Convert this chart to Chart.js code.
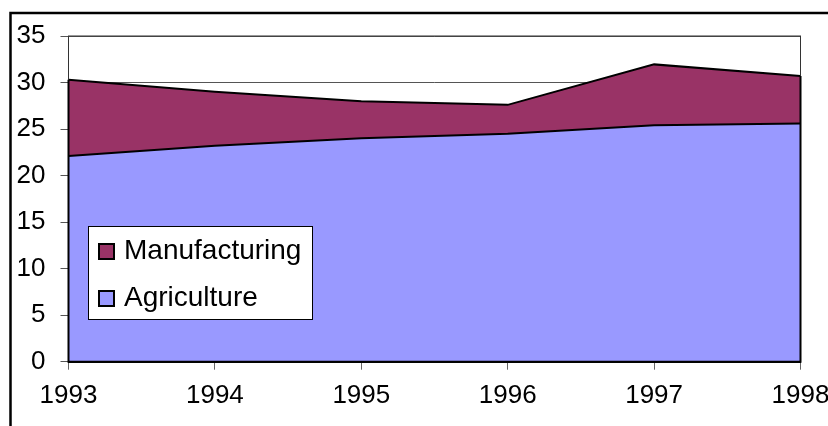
<!DOCTYPE html>
<html>
<head>
<meta charset="utf-8">
<script src="https://cdn.jsdelivr.net/npm/chart.js@4.4.1/dist/chart.umd.min.js"></script>
<style>
    html, body { margin: 0; padding: 0; background: #fff; overflow: hidden; }
    #wrap { width: 828px; height: 426px; position: relative; }
</style>
</head>
<body>
<div id="wrap"><canvas id="chart"></canvas></div>
<script>
// chart data
const years = ["1993", "1994", "1995", "1996", "1997", "1998"];
const agriculture = [22.1, 23.2, 24.0, 24.5, 25.4, 25.6];
const manufacturing = [8.2, 5.8, 4.0, 3.1, 6.55, 5.1];
const yMax = 35;
const yStep = 5;

const FONT = "'Liberation Sans', Arial, sans-serif";

// frame, plot border, area edges, x labels and the legend box
const decorations = {
    id: "decorations",
    afterDatasetsDraw(chart) {
        const { ctx, chartArea, scales } = chart;
        const y = scales.y;
        ctx.save();
        // plot border (top / right)
        ctx.strokeStyle = "#333";
        ctx.lineWidth = 1;
        ctx.strokeRect(chartArea.left, chartArea.top, chartArea.right - chartArea.left, chartArea.bottom - chartArea.top);
        // closed outline of the stacked areas at the sides
        const first = agriculture[0] + manufacturing[0];
        const last = agriculture[agriculture.length - 1] + manufacturing[manufacturing.length - 1];
        ctx.strokeStyle = "#000";
        ctx.lineWidth = 2;
        ctx.beginPath();
        ctx.moveTo(chartArea.left, y.getPixelForValue(first));
        ctx.lineTo(chartArea.left, chartArea.bottom);
        ctx.lineTo(chartArea.right, chartArea.bottom);
        ctx.lineTo(chartArea.right, y.getPixelForValue(last));
        ctx.stroke();
        ctx.restore();
    },
    afterDraw(chart) {
        const { ctx, scales } = chart;
        const x = scales.x;
        ctx.save();

        // outer frame (clipped at right and bottom)
        ctx.strokeStyle = "#000";
        ctx.lineWidth = 2.5;
        ctx.beginPath();
        ctx.moveTo(10.5, 440);
        ctx.lineTo(10.5, 13);
        ctx.lineTo(840, 13);
        ctx.stroke();

        // x labels (the last one runs off the edge like in the original)
        ctx.fillStyle = "#000";
        ctx.font = "26px " + FONT;
        ctx.textAlign = "center";
        ctx.textBaseline = "middle";
        years.forEach((label, i) => {
            ctx.fillText(label, x.getPixelForTick(i), 396);
        });

        // legend
        ctx.fillStyle = "#fff";
        ctx.fillRect(88.5, 226.5, 224, 93);
        ctx.strokeStyle = "#000";
        ctx.lineWidth = 1;
        ctx.strokeRect(88.5, 226.5, 224, 93);

        const entries = [chart.data.datasets[1], chart.data.datasets[0]];
        ctx.font = "28px " + FONT;
        ctx.textAlign = "left";
        ctx.textBaseline = "alphabetic";
        entries.forEach((ds, i) => {
            const top = 244 + i * 47;
            ctx.fillStyle = ds.backgroundColor;
            ctx.fillRect(99, top, 15, 15);
            ctx.lineWidth = 2;
            ctx.strokeStyle = "#000";
            ctx.strokeRect(99, top, 15, 15);
            ctx.fillStyle = "#000";
            ctx.fillText(ds.label, 124, 259 + i * 47);
        });
        ctx.restore();
    }
};

new Chart(document.getElementById("chart"), {
    type: "line",
    data: {
        labels: years,
        datasets: [
            {
                label: "Agriculture",
                data: agriculture,
                backgroundColor: "#9999FF",
                borderColor: "#000",
                borderWidth: 2,
                fill: "origin",
                pointRadius: 0,
                tension: 0
            },
            {
                label: "Manufacturing",
                data: manufacturing,
                backgroundColor: "#993366",
                borderColor: "#000",
                borderWidth: 2,
                fill: "-1",
                pointRadius: 0,
                tension: 0
            }
        ]
    },
    options: {
        responsive: true,
        maintainAspectRatio: false,
        animation: false,
        layout: { padding: { top: 36, right: 27.5, left: 0, bottom: 0 } },
        plugins: {
            legend: { display: false },
            tooltip: { enabled: false }
        },
        scales: {
            x: {
                grid: { display: true, drawOnChartArea: false, drawTicks: true, tickLength: 8, color: "#666" },
                border: { display: true, color: "#000", width: 2 },
                ticks: { display: false },
                afterFit(scale) { scale.height = 64.3; }
            },
            y: {
                stacked: true,
                min: 0,
                max: yMax,
                ticks: {
                    stepSize: yStep,
                    color: "#000",
                    padding: 15,
                    font: { size: 26, family: FONT }
                },
                grid: { color: "#555", tickLength: 8, drawTicks: true },
                border: { display: true, color: "#000", width: 1 },
                afterFit(scale) { scale.width = 68.5; }
            }
        }
    },
    plugins: [decorations]
});
</script>
</body>
</html>
